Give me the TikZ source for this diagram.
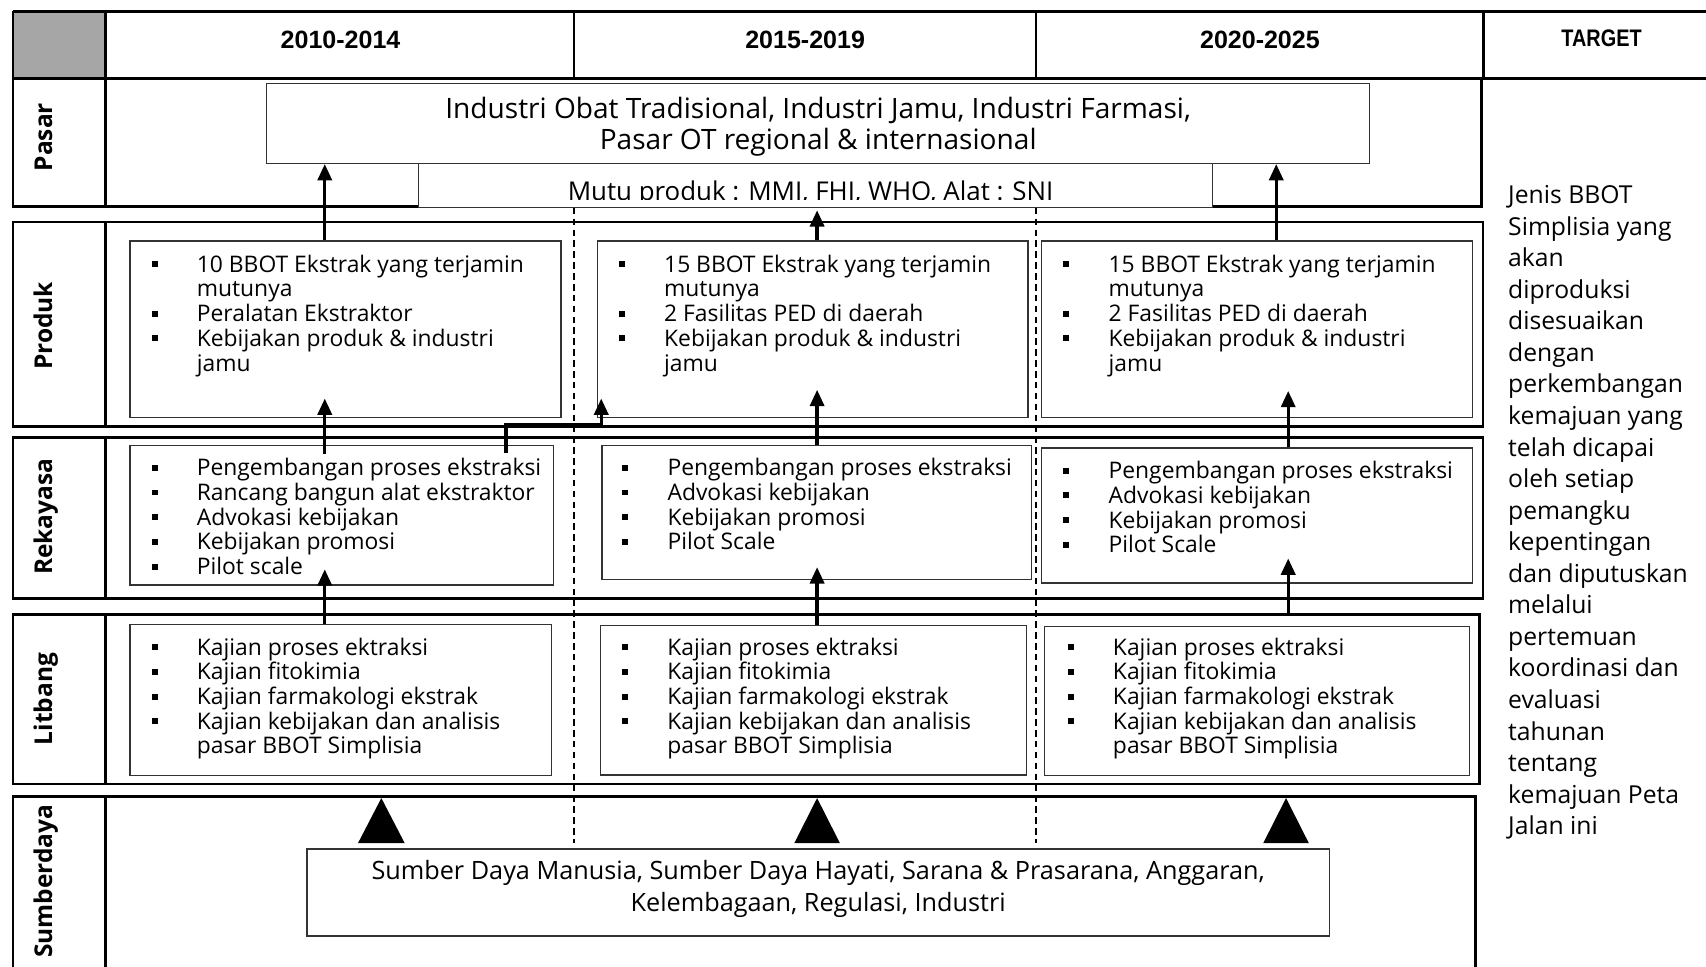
\documentclass[tikz,border=0pt]{standalone}
\usepackage{fontspec}
\setmainfont{Open Sans}
\newfontfamily\hdrfont{Liberation Sans}
\usetikzlibrary{arrows.meta,calc}
\newcommand\bul{\makebox[41.5pt][l]{\raisebox{4.5pt}{\rule{5.5pt}{5.5pt}}}}
\newcommand\nob{\hspace*{41.5pt}}
\newcommand\fst{\rule{0pt}{17pt}}
\newcommand\tst{\rule{0pt}{21pt}}
\newcommand\listfont{\fontsize{21}{22.7}\selectfont}
\begin{document}
\begin{tikzpicture}[x=1pt,y=-1pt,
  frame/.style={line width=2.6pt},
  sep/.style={line width=2.2pt},
  box/.style={draw=black!80,line width=1.3pt,fill=white,inner sep=0pt,anchor=north west},
  list/.style={anchor=north west,inner sep=0pt,align=left,font=\listfont},
  arr/.style={line width=3pt,-{Triangle[length=15pt,width=13pt]}},
  dashline/.style={line width=1.3pt,dash pattern=on 6pt off 4pt},
  lbl/.style={rotate=90,anchor=base,inner sep=0pt,font=\bfseries\fontsize{22.5}{26}\selectfont},
  hdr/.style={anchor=base,inner sep=0pt,font=\hdrfont\bfseries\fontsize{23}{27}\selectfont},
  para/.style={inner sep=0pt}]
\clip (0,0) rectangle (1568,888);
\fill[white] (0,0) rectangle (1568,888);
% header
\fill[black!35] (12,10.5) rectangle (97,72);
\draw[frame] (12,10.5) -- (1568,10.5);
\draw[frame] (12,72) -- (1568,72);
\draw[frame] (12,10.5) -- (12,72);
\draw[sep] (97,10.5) -- (97,72);
\draw[sep] (527.6,10.5) -- (527.6,72);
\draw[sep] (952.4,10.5) -- (952.4,72);
\draw[line width=3pt] (1363.5,10.5) -- (1363.5,72);
\node[hdr] (h1) at (313,45) {2010-2014};
\node[hdr] (h2) at (740,45) {2015-2019};
\node[hdr] (h3) at (1158,45) {2020-2025};
\node[hdr,font=\hdrfont\bfseries\fontsize{22}{26}\selectfont] (h4) at (1472,43) {\scalebox{0.83}[1]{TARGET}};
% rows
\draw[frame] (12,72) rectangle (1362,190);
\draw[sep] (97,72) -- (97,190);
\draw[frame] (12,204) rectangle (1363,392);
\draw[sep] (97,204) -- (97,392);
\draw[frame] (12,402) rectangle (1363,550);
\draw[sep] (97,402) -- (97,550);
\draw[frame] (12,565) rectangle (1360,720.5);
\draw[sep] (97,565) -- (97,720.5);
\draw[frame] (12,732) rectangle (1356,900);
\draw[sep] (97,732) -- (97,900);
\node[lbl] (lp) at (48,126) {Pasar};
\node[lbl] (lpr) at (48,299.5) {Produk};
\node[lbl] (lr) at (48,475) {Rekayasa};
\node[lbl] (ll) at (48,642.5) {Litbang};
\node[lbl] (ls) at (48,810) {Sumberdaya};
% dashed period separators
\draw[dashline] (527.6,191) -- (527.6,775);
\draw[dashline] (952.3,191) -- (952.3,775);
% pasar
\node[box,minimum width=1013.5pt,minimum height=73.5pt] (pb) at (244.5,76) {};
\node[box,minimum width=730pt,minimum height=40.5pt] (mb) at (384,149.5) {};
\node[para,anchor=north,align=center,font=\fontsize{25.8}{28}\selectfont] (pt) at (752,88) {\tst Industri Obat Tradisional, Industri Jamu, Industri Farmasi,\\Pasar OT regional \& internasional};
\begin{scope}
\clip (386,151) rectangle (1112,183);
\node[para,anchor=base,font=\fontsize{23.8}{26}\selectfont] (mt) at (745,184.5) {Mutu produk : MMI, FHI, WHO, Alat : SNI};
\end{scope}
% produk
\node[box,minimum width=396pt,minimum height=162pt] (p1) at (119,221) {};
\node[box,minimum width=395.5pt,minimum height=162pt] (p2) at (548.5,221) {};
\node[box,minimum width=396pt,minimum height=162pt] (p3) at (956.5,221) {};
\node[list] (p1t) at (139.25,233) {\fst\bul 10 BBOT Ekstrak yang terjamin\\ \nob mutunya\\ \bul Peralatan Ekstraktor\\ \bul Kebijakan produk \& industri\\ \nob jamu};
\node[list] (p2t) at (568.75,233) {\fst\bul 15 BBOT Ekstrak yang terjamin\\ \nob mutunya\\ \bul 2 Fasilitas PED di daerah\\ \bul Kebijakan produk \& industri\\ \nob jamu};
\node[list] (p3t) at (977.25,233) {\fst\bul 15 BBOT Ekstrak yang terjamin\\ \nob mutunya\\ \bul 2 Fasilitas PED di daerah\\ \bul Kebijakan produk \& industri\\ \nob jamu};
% rekayasa
\node[box,minimum width=389pt,minimum height=128pt] (r1) at (119,409) {};
\node[box,minimum width=395pt,minimum height=123pt] (r2) at (552.5,409) {};
\node[box,minimum width=396pt,minimum height=124pt] (r3) at (956.5,411) {};
\node[list] (r1t) at (139.25,420) {\fst\bul Pengembangan proses ekstraksi\\ \bul Rancang bangun alat ekstraktor\\ \bul Advokasi kebijakan\\ \bul Kebijakan promosi\\ \bul Pilot scale};
\node[list] (r2t) at (571.85,420) {\fst\bul Pengembangan proses ekstraksi\\ \bul Advokasi kebijakan\\ \bul Kebijakan promosi\\ \bul Pilot Scale};
\node[list] (r3t) at (977.25,422.7) {\fst\bul Pengembangan proses ekstraksi\\ \bul Advokasi kebijakan\\ \bul Kebijakan promosi\\ \bul Pilot Scale};
% litbang
\node[box,minimum width=387pt,minimum height=138.5pt] (l1) at (119,573.5) {};
\node[box,minimum width=391.5pt,minimum height=137pt] (l2) at (551.5,574.5) {};
\node[box,minimum width=390.5pt,minimum height=137pt] (l3) at (959.5,575) {};
\node[list] (l1t) at (139.25,585) {\fst\bul Kajian proses ektraksi\\ \bul Kajian fitokimia\\ \bul Kajian farmakologi ekstrak\\ \bul Kajian kebijakan dan analisis\\ \nob pasar BBOT Simplisia};
\node[list] (l2t) at (571.75,585) {\fst\bul Kajian proses ektraksi\\ \bul Kajian fitokimia\\ \bul Kajian farmakologi ekstrak\\ \bul Kajian kebijakan dan analisis\\ \nob pasar BBOT Simplisia};
\node[list] (l3t) at (981.25,585) {\fst\bul Kajian proses ektraksi\\ \bul Kajian fitokimia\\ \bul Kajian farmakologi ekstrak\\ \bul Kajian kebijakan dan analisis\\ \nob pasar BBOT Simplisia};
% sumberdaya
\fill (329,775) -- (372,775) -- (350.5,733.5) -- cycle;
\fill (730,775) -- (772,775) -- (751,733.5) -- cycle;
\fill (1161,775) -- (1203,775) -- (1182,733.5) -- cycle;
\node[box,minimum width=940pt,minimum height=80pt] (sb) at (281.5,779.6) {};
\node[para,anchor=north,align=center,font=\fontsize{23.2}{30}\selectfont] (st) at (752,789) {\rule{0pt}{19pt}Sumber Daya Manusia, Sumber Daya Hayati, Sarana \& Prasarana, Anggaran,\\Kelembagaan, Regulasi, Industri};
% target
\node[anchor=north west,inner sep=0pt,align=left,font=\fontsize{22.7}{29}\selectfont] (tgt) at (1386,168) {\rule{0pt}{19pt}Jenis BBOT\\Simplisia yang\\akan\\diproduksi\\disesuaikan\\dengan\\perkembangan\\kemajuan yang\\telah dicapai\\oleh setiap\\pemangku\\kepentingan\\dan diputuskan\\melalui\\pertemuan\\koordinasi dan\\evaluasi\\tahunan\\tentang\\kemajuan Peta\\Jalan ini};
% arrows
\coordinate (k1) at (298.5,0);
\coordinate (k2) at (751,0);
\coordinate (k3a) at (1173,0);
\coordinate (k3) at (1184,0);
\coordinate (ke1) at (465,0);
\coordinate (ke2) at (552.6,0);
\coordinate (bend) at (465,390);
\draw[arr] (k1 |- p1.north) -- (k1 |- pb.south);
\draw[arr] ($(k1 |- r1.north)+(0,8)$) -- ($(k1 |- p1.south)+(0,-18)$);
\draw[arr] (k1 |- l1.north) -- ($(k1 |- r1.south)+(0,-15)$);
\draw[arr] (k2 |- p2.north) -- ($(k2 |- mb.south)+(0,2)$);
\draw[arr] (k2 |- r2.north) -- ($(k2 |- p2.south)+(0,-26)$);
\draw[arr] (k2 |- l2.north) -- ($(k2 |- r2.south)+(0,-12)$);
\draw[arr] (k3a |- p3.north) -- (k3a |- pb.south);
\draw[arr] (k3 |- r3.north) -- ($(k3 |- p3.south)+(0,-25)$);
\draw[arr] ($(k3 |- l3.north)+(0,-10)$) -- ($(k3 |- r3.south)+(0,-23)$);
\draw[arr] ($(ke1 |- r1.north)+(0,7)$) -- (bend) -| ($(ke2 |- p2.south)+(0,-18)$);
\end{tikzpicture}
\end{document}
